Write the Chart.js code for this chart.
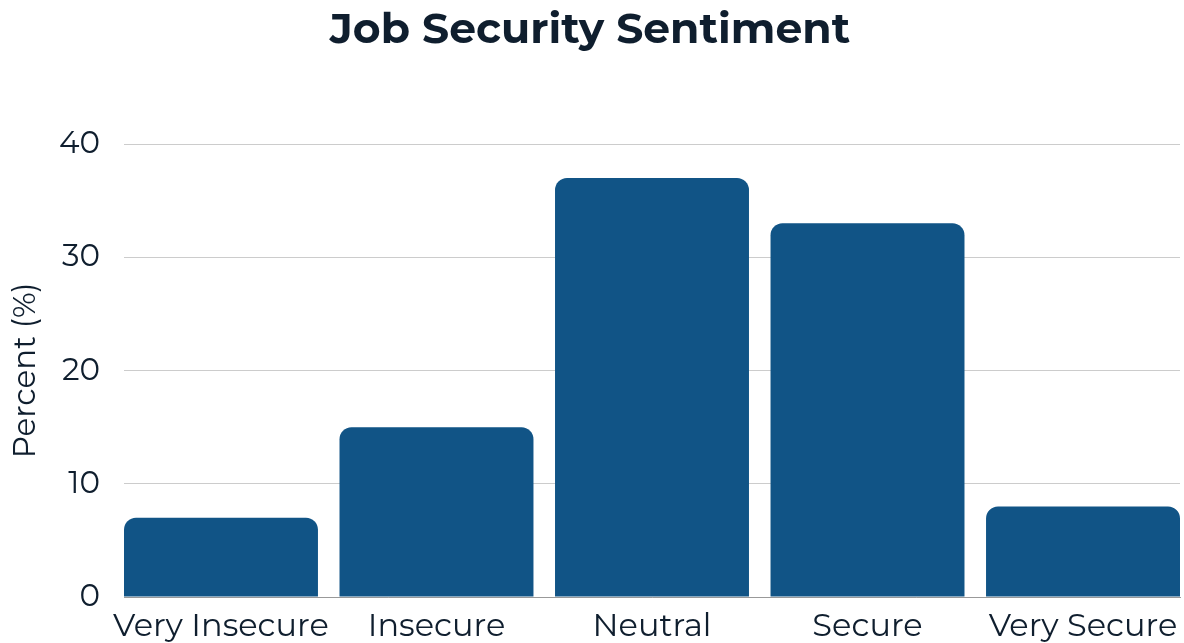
<!DOCTYPE html>
<html>
<head>
<meta charset="utf-8">
<title>Job Security Sentiment</title>
<script src="https://cdn.jsdelivr.net/npm/chart.js@4.4.1/dist/chart.umd.min.js"></script>
<style>
  html, body { margin: 0; padding: 0; background: #fff; }
  #wrap { width: 1184px; height: 643px; }
</style>
</head>
<body>
<div id="wrap"><canvas id="jobChart"></canvas></div>
<script>
"use strict";

const categories = ['Very Insecure', 'Insecure', 'Neutral', 'Secure', 'Very Secure'];
const percents = [7, 15, 37, 33, 8];
const yTicks = [0, 10, 20, 30, 40];

const textColor = '#0f1e2e';
const barColor = '#115486';
const fontFamily = "Montserrat, Inter, 'Noto Sans', sans-serif";

// bars sit on a numeric axis so they can run edge to edge of the plot
const points = percents.map((v, i) => ({ x: i, y: v }));

const ctx = document.getElementById('jobChart').getContext('2d');

new Chart(ctx, {
  type: 'bar',
  data: {
    datasets: [{
      label: 'Percent',
      data: points,
      backgroundColor: barColor,
      borderRadius: 12,
      barPercentage: 0.9,
      categoryPercentage: 1.0
    }]
  },
  options: {
    responsive: true,
    maintainAspectRatio: false,
    animation: false,
    layout: { padding: { left: 0, right: 4, top: 0, bottom: 0 } },
    plugins: {
      legend: { display: false },
      tooltip: { enabled: false },
      title: {
        display: true,
        text: 'Job Security Sentiment',
        color: textColor,
        font: { family: fontFamily, size: 42.5, weight: 'bold' },
        padding: { top: 5, bottom: 88 }
      }
    },
    scales: {
      x: {
        type: 'linear',
        offset: false,
        min: -0.45,
        max: 4.45,
        grid: { display: false, offset: false },
        border: { display: true, color: '#999999', width: 1 },
        ticks: {
          stepSize: 1,
          includeBounds: false,
          autoSkip: false,
          maxRotation: 0,
          padding: 2,
          color: textColor,
          font: { family: fontFamily, size: 32 },
          callback: (value) => categories[value]
        },
        afterFit: (scale) => { scale.height = 46; }
      },
      y: {
        min: yTicks[0],
        max: yTicks[yTicks.length - 1],
        grid: { color: '#cccccc', drawTicks: false },
        border: { display: false },
        afterBuildTicks: (scale) => { scale.ticks = yTicks.map(v => ({ value: v })); },
        ticks: {
          padding: 24,
          color: textColor,
          font: { family: fontFamily, size: 31 }
        },
        title: {
          display: true,
          text: 'Percent (%)',
          color: textColor,
          font: { family: fontFamily, size: 31 },
          padding: { top: 7, bottom: 0 }
        },
        afterFit: (scale) => { scale.width = 124; }
      }
    }
  }
});
</script>
</body>
</html>
